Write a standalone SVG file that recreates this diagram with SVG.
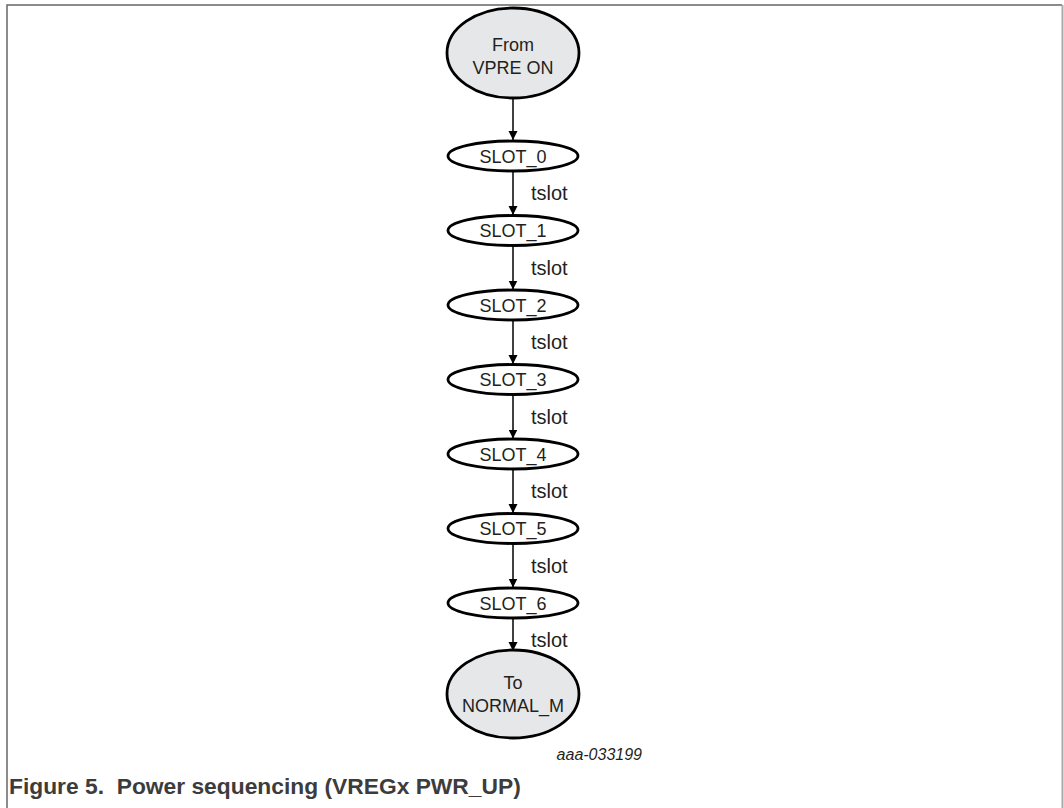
<svg xmlns="http://www.w3.org/2000/svg" width="1064" height="808" viewBox="0 0 1064 808">
<defs>
<marker id="ah" markerWidth="9" markerHeight="12" refX="10" refY="5" orient="auto" markerUnits="userSpaceOnUse" viewBox="0 0 10 10">
<path d="M0,0 L10,5 L0,10 Z" fill="#000"/>
</marker>
<style>
.term{fill:#e6e7e8;stroke:#000;stroke-width:2.8}
.slot{fill:#fff;stroke:#000;stroke-width:2.8}
.t{font-family:"Liberation Sans",Arial,sans-serif;font-size:18px;fill:#231f20;text-anchor:middle}
.lbl{font-family:"Liberation Sans",Arial,sans-serif;font-size:20px;fill:#231f20}
.edge{stroke:#000;stroke-width:1.5;fill:none;marker-end:url(#ah)}
</style>
</defs>
<rect width="1064" height="808" fill="#fff"/>
<g id="frame">
<path d="M7,808 V5 H1062" fill="none" stroke="#666" stroke-width="1.5"/>
<path d="M1062.5,5 V808" fill="none" stroke="#aaa" stroke-width="2"/>
</g>
<g id="connectors">
<path class="edge" d="M513,99 V140"/>
<path class="edge" d="M513,171 V215"/>
<path class="edge" d="M513,245.5 V289.5"/>
<path class="edge" d="M513,320 V364"/>
<path class="edge" d="M513,394.5 V438.5"/>
<path class="edge" d="M513,469 V513"/>
<path class="edge" d="M513,543.5 V587.5"/>
<path class="edge" d="M513,618 V651"/>
<text class="lbl" x="531" y="200">tslot</text>
<text class="lbl" x="531" y="274.5">tslot</text>
<text class="lbl" x="531" y="349">tslot</text>
<text class="lbl" x="531" y="423.5">tslot</text>
<text class="lbl" x="531" y="498">tslot</text>
<text class="lbl" x="531" y="572.5">tslot</text>
<text class="lbl" x="531" y="647">tslot</text>
</g>
<g id="from">
<ellipse class="term" cx="513" cy="53" rx="66" ry="45"/>
<text class="t" x="513" y="51">From</text>
<text class="t" x="513" y="74">VPRE ON</text>
</g>
<g id="slot0"><ellipse class="slot" cx="513" cy="156" rx="65" ry="15"/><text class="t" x="513" y="162.5">SLOT_0</text></g>
<g id="slot1"><ellipse class="slot" cx="513" cy="230.5" rx="65" ry="15"/><text class="t" x="513" y="237">SLOT_1</text></g>
<g id="slot2"><ellipse class="slot" cx="513" cy="305" rx="65" ry="15"/><text class="t" x="513" y="311.5">SLOT_2</text></g>
<g id="slot3"><ellipse class="slot" cx="513" cy="379.5" rx="65" ry="15"/><text class="t" x="513" y="386">SLOT_3</text></g>
<g id="slot4"><ellipse class="slot" cx="513" cy="454" rx="65" ry="15"/><text class="t" x="513" y="460.5">SLOT_4</text></g>
<g id="slot5"><ellipse class="slot" cx="513" cy="528.5" rx="65" ry="15"/><text class="t" x="513" y="535">SLOT_5</text></g>
<g id="slot6"><ellipse class="slot" cx="513" cy="603" rx="65" ry="15"/><text class="t" x="513" y="609.5">SLOT_6</text></g>
<g id="to">
<ellipse class="term" cx="513" cy="694" rx="66" ry="44"/>
<text class="t" x="513" y="689">To</text>
<text class="t" x="513" y="712">NORMAL_M</text>
</g>
<text x="642" y="760" font-family="'Liberation Sans',Arial,sans-serif" font-size="16" font-style="italic" fill="#231f20" text-anchor="end">aaa-033199</text>
<text x="9" y="794" font-family="'Liberation Sans',Arial,sans-serif" font-size="22.8" font-weight="bold" fill="#3c3c3c" xml:space="preserve">Figure 5.  Power sequencing (VREGx PWR_UP)</text>
</svg>
